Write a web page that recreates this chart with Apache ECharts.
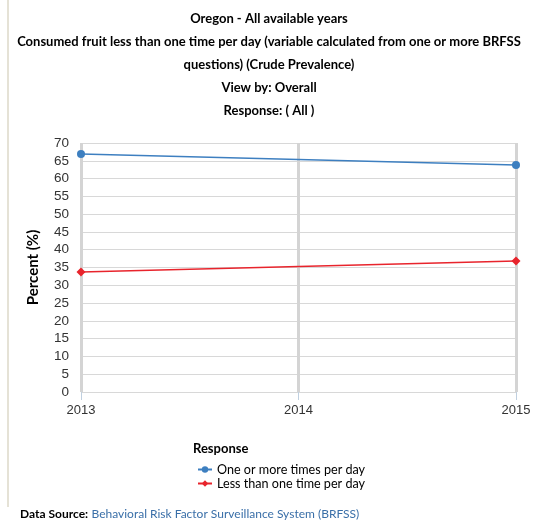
<!DOCTYPE html>
<html><head><meta charset="utf-8">
<script src="https://cdn.jsdelivr.net/npm/echarts@6/dist/echarts.min.js"></script>
<style>html,body{margin:0;padding:0;background:#fff}#c{width:538px;height:525px}</style>
</head><body><div id="c"></div>
<script>
var years = [2013, 2015];
var seriesNames = ['One or more times per day', 'Less than one time per day'];
var oneOrMore = [66.9, 63.8];
var lessThanOne = [33.7, 36.8];
var yTicks = [0, 70, 5];

var chart = echarts.init(document.getElementById('c'));
var titleLines = ['Oregon - All available years',
  'Consumed fruit less than one time per day (variable calculated from one or more BRFSS',
  'questions) (Crude Prevalence)', 'View by: Overall', 'Response: ( All )'];
chart.setOption({
  animation: false,
  title: {
    text: titleLines.join('\n'), left: 'center', top: 2,
    textStyle: {fontFamily: 'Lato', fontWeight: 'bold', fontSize: 13, lineHeight: 23.1, color: '#000'}
  },
  grid: {left: 81, right: 22, top: 143, bottom: 133},
  xAxis: {
    type: 'value', min: 2013, max: 2015, interval: 1,
    axisLine: {show: false},
    axisTick: {show: true, length: 8, lineStyle: {color: '#c0d0e0'}},
    axisLabel: {fontFamily: 'Liberation Sans', fontSize: 13, color: '#333', margin: 12,
      formatter: function (v) { return String(v); }},
    splitLine: {show: true, lineStyle: {color: '#d4d4d4', width: 3}}
  },
  yAxis: {
    type: 'value', min: yTicks[0], max: yTicks[1], interval: yTicks[2],
    name: 'Percent (%)', nameLocation: 'middle', nameGap: 40,
    nameTextStyle: {fontFamily: 'Lato', fontWeight: 'bold', fontSize: 15, color: '#000'},
    axisLine: {show: false}, axisTick: {show: false},
    axisLabel: {fontFamily: 'Liberation Sans', fontSize: 13.5, color: '#333', margin: 12},
    splitLine: {lineStyle: {color: '#d8d8d8', width: 1}}
  },
  legend: {
    left: 192, top: 458, orient: 'vertical', itemGap: 1, itemWidth: 14, itemHeight: 8,
    textStyle: {fontFamily: 'Lato', fontSize: 12.6, color: '#000'},
    data: seriesNames
  },
  graphic: [
    {type: 'line', shape: {x1: 8, y1: 0, x2: 8, y2: 507}, style: {stroke: '#dcd8c8', lineWidth: 1.5}},
    {type: 'text', left: 193, top: 442, style: {text: 'Response', font: 'bold 13px Lato', fill: '#000'}},
    {type: 'text', left: 20, top: 508, style: {
      text: '{a|Data Source:} {b|Behavioral Risk Factor Surveillance System (BRFSS)}',
      rich: {a: {font: 'bold 12px Lato', fill: '#000'}, b: {font: '12px Lato', fill: '#3a6fa8'}}}}
  ],
  series: [
    {name: seriesNames[0], type: 'line', symbol: 'circle', symbolSize: 8,
     data: years.map(function (y, i) { return [y, oneOrMore[i]]; }),
     itemStyle: {color: '#3d7fc0'}, lineStyle: {color: '#3d7fc0', width: 1.5}},
    {name: seriesNames[1], type: 'line', symbol: 'diamond', symbolSize: 9,
     data: years.map(function (y, i) { return [y, lessThanOne[i]]; }),
     itemStyle: {color: '#e8242c'}, lineStyle: {color: '#e8242c', width: 1.5}}
  ]
});
</script></body></html>
